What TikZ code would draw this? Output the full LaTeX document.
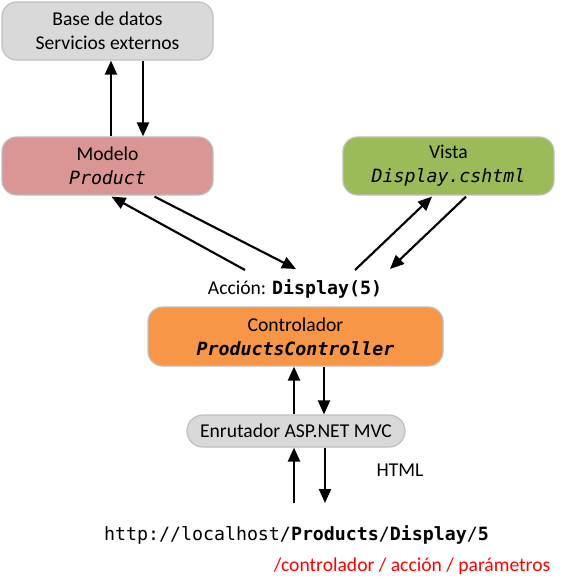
\documentclass[tikz,border=0pt]{standalone}
\usepackage{fontspec}
\setmainfont{Carlito}
\setmonofont{DejaVu Sans Mono}
\usetikzlibrary{arrows.meta,calc}
\definecolor{grayfill}{HTML}{D9D9D9}
\definecolor{grayline}{HTML}{BFBFBF}
\definecolor{modelfill}{HTML}{D99694}
\definecolor{viewfill}{HTML}{9BBB59}
\definecolor{ctrlfill}{HTML}{F79646}
\definecolor{redtext}{HTML}{FF0000}
\tikzset{
  box/.style={draw=grayline, line width=0.9pt, rounded corners=11pt, align=center,
    inner sep=0pt, font=\fontsize{14.7}{18}\selectfont},
  arr/.style={line width=1.6pt, -{Triangle[length=10.5pt,width=9pt]}},
  lbl/.style={font=\fontsize{14.7}{18}\selectfont},
}
\newcommand{\mtt}[1]{{\fontsize{13.7}{16}\selectfont\ttfamily #1}}
\begin{document}
\begin{tikzpicture}[x=0.75pt,y=-0.75pt]
\useasboundingbox (0,0) rectangle (565,588);
\node[box, fill=grayfill, minimum width=211*0.75pt, minimum height=58*0.75pt] (base) at (107.5,31) {Base de datos\\Servicios externos};
\node[box, fill=modelfill, minimum width=211*0.75pt, minimum height=58*0.75pt] (model) at (107.5,166) {Modelo\\\mtt{\itshape Product}};
\node[box, fill=viewfill, minimum width=211*0.75pt, minimum height=58*0.75pt] (view) at (448.5,166) {Vista\\\mtt{\itshape Display.cshtml}};
\node[lbl] (act) at (295,289) {Acción: \mtt{\bfseries Display(5)}};
\node[box, fill=ctrlfill, minimum width=295*0.75pt, minimum height=59*0.75pt] (ctrl) at (295.5,336.5) {Controlador\\\mtt{\bfseries\itshape ProductsController}};
\node[box, fill=grayfill, rounded corners=12pt, minimum width=218*0.75pt, minimum height=32*0.75pt] (router) at (296,431) {Enrutador ASP.NET MVC};
\node[lbl] (html) at (400,470) {HTML};
\node[font=\fontsize{13.7}{16}\selectfont\ttfamily] (url) at (296.5,535) {http://localhost/\textbf{Products}/\textbf{Display}/\textbf{5}};
\node[anchor=east, text=redtext, lbl] (parts) at (555,566) {/controlador / acción / parámetros};
% base <-> model
\draw[arr] ($(model.north)+(3.5,0)$) -- ($(base.south)+(3.5,0)$);
\draw[arr] ($(base.south)+(35.5,0)$) -- ($(model.north)+(35.5,0)$);
% model <-> action
\coordinate (a1) at (245,270);
\coordinate (a2) at (296,269);
\coordinate (a3) at (355,270);
\coordinate (a4) at (390,269);
\draw[arr] (a1) -- ($(model.south)+(4,1)$);
\draw[arr] ($(model.south)+(47,1)$) -- (a2);
\draw[arr] (a3) -- ($(view.south)+(-16.5,1)$);
\draw[arr] ($(view.south)+(17.5,1)$) -- (a4);
% ctrl <-> router
\draw[arr] ($(router.north)+(-2,0)$) -- ($(ctrl.south)+(-1.5,0)$);
\draw[arr] ($(ctrl.south)+(28.5,0)$) -- ($(router.north)+(28,0)$);
% router <-> url
\coordinate (u1) at (294,503);
\coordinate (u2) at (325,503);
\draw[arr] (u1) -- ($(router.south)+(-2,0)$);
\draw[arr] ($(router.south)+(29,0)$) -- (u2);
\end{tikzpicture}
\end{document}
